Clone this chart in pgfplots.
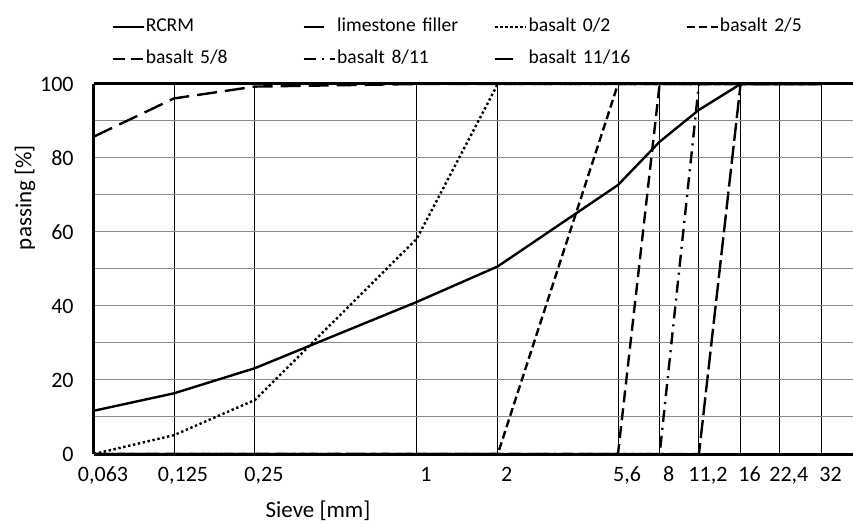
\documentclass[border=0pt]{standalone}
\usepackage{fontspec}
\setmainfont{Carlito}
\usepackage{pgfplots}
\pgfplotsset{compat=1.18}
\pgfplotsset{
    short legend/.style={legend image code/.code={
        \draw[##1] (0bp,0bp) -- (11bp,0bp);
        \path (15.5bp,0bp);}},
}

\begin{document}
\begin{tikzpicture}
\begin{axis}[
    name=ax,
    scale only axis,
    width=379.5bp, height=185bp,
    xmode=log, log basis x=2,
    xmin=0.063, xmax=41.9,
    ymin=0, ymax=100,
    xtick={0.063,0.125,0.25,1,2,5.6,8,11.2,16,22.4,32},
    xticklabels={{0,063},{0,125},{0,25},1,2,{5,6},8,{11,2},16,{22,4},32},
    ytick={0,20,...,100},
    minor ytick={10,30,...,90},
    xmajorgrids, ymajorgrids, yminorgrids,
    x grid style={black, line width=0.5bp},
    y grid style={black!45, line width=0.5bp},
    minor y grid style={black!45, line width=0.5bp},
    major tick length=0pt, minor tick length=0pt,
    axis x line=box, axis y line=left,
    axis line style={line width=1.5bp, -},
    /pgf/number format/assume math mode=true,
    tick label style={font=\fontsize{11bp}{13bp}\selectfont},
    xticklabel style={anchor=base, yshift=-13.5bp, xshift=4.5bp},
    yticklabel style={inner sep=0pt, xshift=-10bp},
    xlabel={Sieve [mm]},
    ylabel={passing [\%]},
    every axis x label/.style={at={(axis description cs:0,0)}, xshift=112bp, yshift=-31.5bp,
        anchor=base, font=\fontsize{11.5bp}{13bp}\selectfont},
    every axis y label/.style={at={(axis description cs:0,1)}, xshift=-34.5bp, yshift=-56.75bp,
        rotate=90, anchor=center, font=\fontsize{11.5bp}{13bp}\selectfont},
    legend columns=4,
    legend cell align=left,
    legend image code/.code={\draw[#1] (0bp,0bp) -- (15.5bp,0bp);},
    legend style={draw=none, fill=none, at={(axis description cs:0,1)}, anchor=west,
        xshift=8.5bp, yshift=20.5bp, inner sep=0pt, row sep=6bp,
        font=\fontsize{9.8bp}{11bp}\selectfont,
        nodes={inner sep=0.5bp, text width=78bp, text height=7bp, text depth=2bp}},
]

% RCRM
\addplot[black, line width=1.2bp] coordinates {
    (0.063,11.7) (0.125,16.4) (0.25,23.2) (1,41.1) (2,50.7) (5.6,72.7)
    (8,84.4) (11.2,93.0) (16,100) (22.4,100) (32,100)
};
% limestone filler
\addplot[black, line width=1.2bp, dash pattern=on 10bp off 4bp, short legend] coordinates {
    (0.063,85.8) (0.125,96.1) (0.25,99.3) (1,100) (2,100) (5.6,100)
    (8,100) (11.2,100) (16,100) (22.4,100) (32,100)
};
% basalt 0/2
\addplot[black, line width=1.2bp, dash pattern=on 1.2bp off 1.3bp] coordinates {
    (0.063,0) (0.125,5.1) (0.25,14.6) (1,58.2) (2,100) (5.6,100)
    (8,100) (11.2,100) (16,100) (22.4,100) (32,100)
};
% basalt 2/5
\addplot[black, line width=1.2bp, dash pattern=on 4bp off 2bp] coordinates {
    (0.063,0) (0.125,0) (0.25,0) (1,0) (2,0) (5.6,100)
    (8,100) (11.2,100) (16,100) (22.4,100) (32,100)
};
% basalt 5/8
\addplot[black, line width=1.2bp, dash pattern=on 6bp off 3bp] coordinates {
    (0.063,0) (0.125,0) (0.25,0) (1,0) (2,0) (5.6,0)
    (8,100) (11.2,100) (16,100) (22.4,100) (32,100)
};
% basalt 8/11
\addplot[black, line width=1.2bp, dash pattern=on 6bp off 3bp on 1bp off 3bp] coordinates {
    (0.063,0) (0.125,0) (0.25,0) (1,0) (2,0) (5.6,0)
    (8,0) (11.2,100) (16,100) (22.4,100) (32,100)
};
% basalt 11/16
\addplot[black, line width=1.2bp, dash pattern=on 9bp off 2.5bp, short legend] coordinates {
    (0.063,0) (0.125,0) (0.25,0) (1,0) (2,0) (5.6,0)
    (8,0) (11.2,0) (16,100) (22.4,100) (32,100)
};

\legend{RCRM, limestone filler, basalt 0/2, basalt 2/5, basalt 5/8, basalt 8/11, basalt 11/16}
\end{axis}
\pgfresetboundingbox
\path ([shift={(-47bp,-35.5bp)}]ax.south west) rectangle ([shift={(0bp,42bp)}]ax.north east);
\end{tikzpicture}
\end{document}
